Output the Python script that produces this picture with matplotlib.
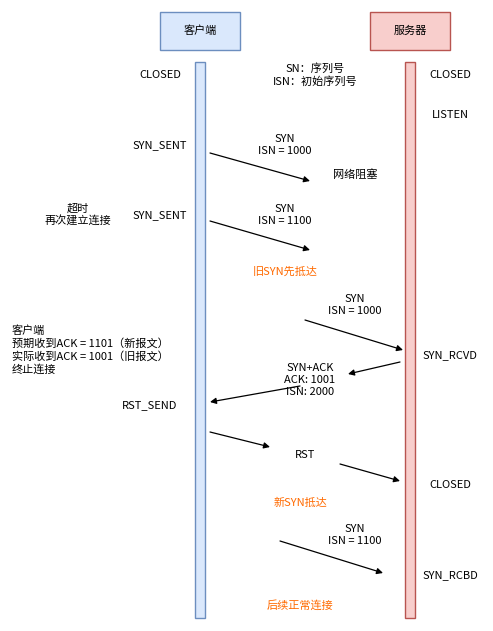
import matplotlib
matplotlib.use("Agg")
import matplotlib.pyplot as plt
from matplotlib.patches import Rectangle

plt.rcParams['font.family'] = ['Noto Sans CJK SC', 'DejaVu Sans']

actors = ["客户端", "服务器"]
actor_x = [200, 410]
actor_fill = ["#dae8fc", "#f8cecc"]
actor_edge = ["#6c8ebf", "#b85450"]

# (x, y, text, color, ha)
labels = [
    (160, 75, "CLOSED", "black", "center"),
    (315, 75, "SN：序列号\nISN：初始序列号", "black", "center"),
    (450, 75, "CLOSED", "black", "center"),
    (450, 115, "LISTEN", "black", "center"),
    (160, 145, "SYN_SENT", "black", "center"),
    (285, 145, "SYN\nISN = 1000", "black", "center"),
    (355, 175, "网络阻塞", "black", "center"),
    (78, 215, "超时\n再次建立连接", "black", "center"),
    (160, 215, "SYN_SENT", "black", "center"),
    (285, 215, "SYN\nISN = 1100", "black", "center"),
    (285, 272, "旧SYN先抵达", "#ff6a00", "center"),
    (355, 305, "SYN\nISN = 1000", "black", "center"),
    (450, 355, "SYN_RCVD", "black", "center"),
    (12, 350, "客户端\n预期收到ACK = 1101（新报文）\n实际收到ACK = 1001（旧报文）\n终止连接", "black", "left"),
    (310, 380, "SYN+ACK\nACK: 1001\nISN: 2000", "black", "center"),
    (150, 405, "RST_SEND", "black", "center"),
    (305, 455, "RST", "black", "center"),
    (450, 485, "CLOSED", "black", "center"),
    (300, 503, "新SYN抵达", "#ff6a00", "center"),
    (355, 535, "SYN\nISN = 1100", "black", "center"),
    (450, 575, "SYN_RCBD", "black", "center"),
    (300, 605, "后续正常连接", "#ff6a00", "center"),
]

arrows = [
    ((210, 153), (310, 181)),
    ((210, 221), (310, 250)),
    ((305, 320), (403, 350)),
    ((400, 362), (348, 374)),
    ((300, 386), (210, 402)),
    ((210, 432), (270, 447)),
    ((340, 464), (400, 481)),
    ((280, 541), (383, 573)),
]

fig = plt.figure(figsize=(4.93, 6.31), dpi=100)
ax = fig.add_axes([0, 0, 1, 1])
ax.set_xlim(0, 493)
ax.set_ylim(631, 0)
ax.axis('off')

for name, x, f, e in zip(actors, actor_x, actor_fill, actor_edge):
    ax.add_patch(Rectangle((x - 40, 12), 80, 38, facecolor=f, edgecolor=e, lw=1))
    ax.text(x, 31, name, ha='center', va='center', fontsize=8)
    ax.add_patch(Rectangle((x - 5, 62), 10, 556, facecolor=f, edgecolor=e, lw=1))

for x, y, t, c, ha in labels:
    ax.text(x, y, t, ha=ha, va='center', fontsize=8, color=c, linespacing=1.25)

for s, e in arrows:
    ax.annotate("", xy=e, xytext=s,
                arrowprops=dict(arrowstyle="-|>", color="black", lw=0.9,
                                mutation_scale=9, shrinkA=0, shrinkB=0))

fig.savefig("out.png", dpi=100)
